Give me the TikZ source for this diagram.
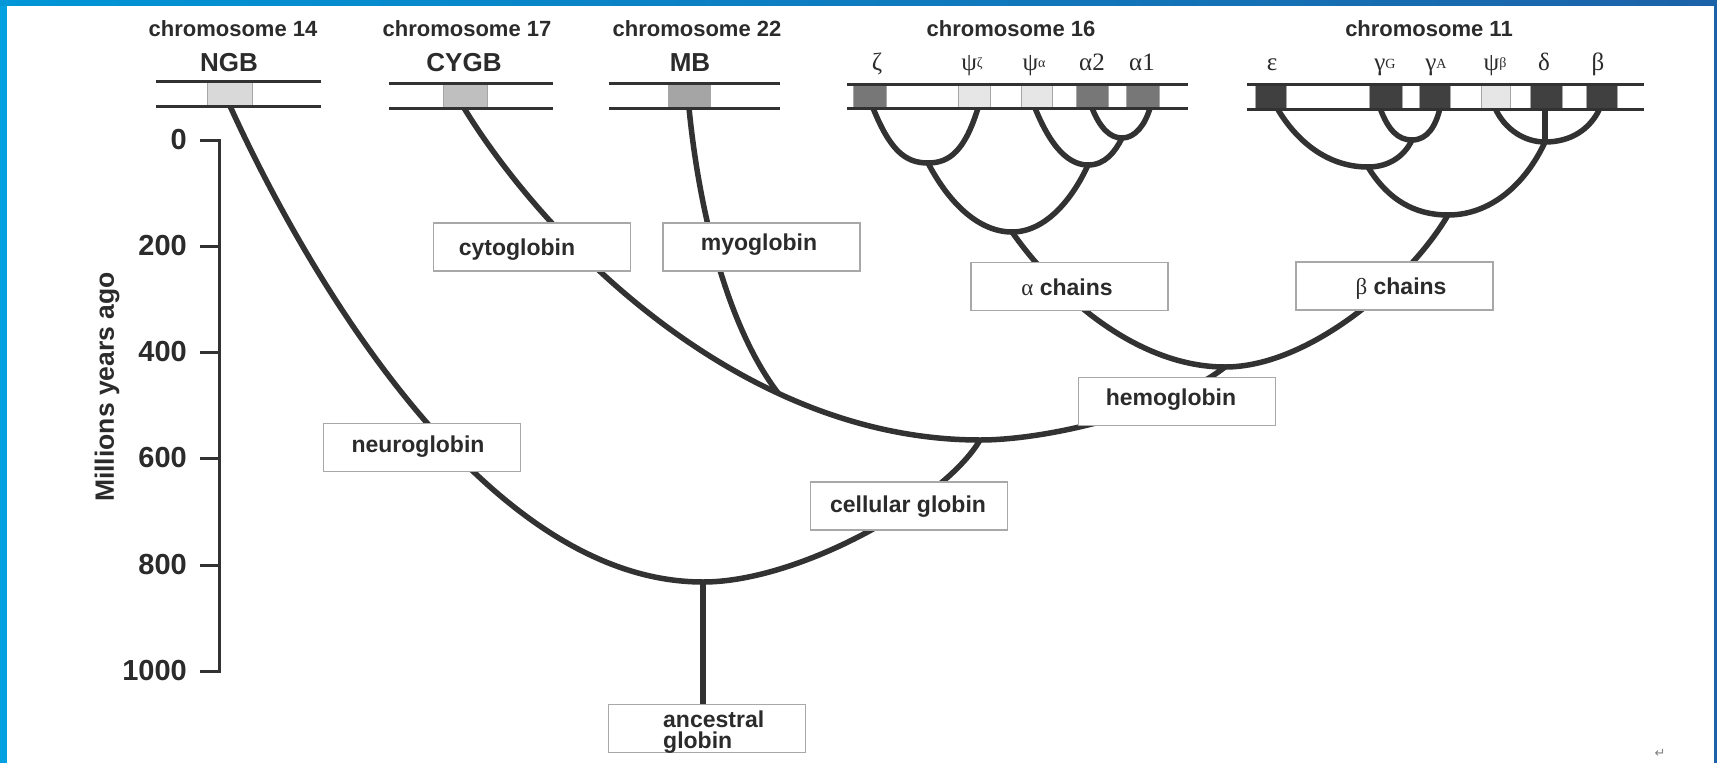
\documentclass[tikz,border=0pt]{standalone}
\usepackage{fontspec}
\setmainfont{Liberation Sans}
\newfontfamily\grk{Liberation Serif}
\newfontfamily\djv{DejaVu Sans}
\definecolor{ink}{HTML}{323232}
\definecolor{txt}{HTML}{2B2B2B}
\definecolor{boxline}{HTML}{A8A8A8}
\definecolor{leftblue}{RGB}{0,160,225}
\definecolor{topblueL}{RGB}{0,150,215}
\definecolor{topblueR}{RGB}{28,98,168}
\definecolor{gA}{HTML}{D9D9D9}
\definecolor{gB}{HTML}{BFBFBF}
\definecolor{gC}{HTML}{A5A5A5}
\definecolor{gM}{HTML}{777777}
\definecolor{gL}{HTML}{E6E6E6}
\definecolor{gD}{HTML}{404040}
\newcommand\fsz[1]{\fontsize{#1}{#1}\selectfont}
\begin{document}
\begin{tikzpicture}[x=1pt,y=-1pt,
  tree/.style={draw=ink,line width=5.5pt,line join=round},
  chrline/.style={draw=ink,line width=3pt},
  axisline/.style={draw=ink,line width=3pt},
  genebox/.style={draw=gray!70,line width=0.8pt,inner sep=0pt,minimum height=24pt},
  lbox/.style={draw=boxline,line width=1.5pt,fill=white,inner sep=0pt,minimum width=197pt,minimum height=48pt},
  lbl/.style={font=\bfseries\fsz{23},text=txt,inner sep=0pt,anchor=base},
  chrlbl/.style={font=\bfseries\fsz{22},text=txt,inner sep=0pt,anchor=base},
  genelbl/.style={font=\bfseries\fsz{26},text=txt,inner sep=0pt,anchor=base},
  grklbl/.style={font=\grk\fsz{25},text=txt,inner sep=0pt,anchor=base},
  numlbl/.style={font=\bfseries\fsz{29},text=txt,inner sep=0pt,anchor=east}]
\useasboundingbox (0,0) rectangle (1717,763);
\fill[white] (0,0) rectangle (1717,763);
% frame
\fill[leftblue] (0,0) rectangle (7,763);
\shade[left color=topblueL,right color=topblueR] (0,0) rectangle (1717,5);
\fill[topblueR] (1714,0) rectangle (1717,763);

% axis
\draw[axisline] (200,140) -- (219,140) -- (219,671) -- (200,671);
\foreach \yy in {246,352,458,565} \draw[axisline] (200,\yy) -- (219,\yy);
\node[numlbl] (t0) at (187,140) {0};
\node[numlbl] (t200) at (187,246) {200};
\node[numlbl] (t400) at (187,352) {400};
\node[numlbl] (t600) at (187,458) {600};
\node[numlbl] (t800) at (187,565) {800};
\node[numlbl] (t1000) at (187,671) {1000};
\node[font=\bfseries\fsz{26.5},text=txt,rotate=90,inner sep=0pt] (yl) at (107,387) {Millions years ago};

% coordinates
\coordinate (gng) at (230,106);
\coordinate (gcy) at (464,108);
\coordinate (gmb) at (689,108);
\coordinate (gz) at (873,108);
\coordinate (gpz) at (978,108);
\coordinate (gpa) at (1035,108);
\coordinate (ga2) at (1092,108);
\coordinate (ga1) at (1150,108);
\coordinate (ge) at (1277,108);
\coordinate (ggG) at (1380,108);
\coordinate (ggA) at (1440,108);
\coordinate (gpb) at (1495,108);
\coordinate (gd) at (1545,108);
\coordinate (gb) at (1600,108);
\coordinate (J1) at (928,163);
\coordinate (J2) at (1088,165);
\coordinate (J2a) at (1122,138);
\coordinate (J3) at (1012,232);
\coordinate (K1) at (1368,167);
\coordinate (Ka) at (1412,140);
\coordinate (K2) at (1448,215);
\coordinate (Kb) at (1545,142);
\coordinate (Jhb) at (1225,367);
\coordinate (Jcg) at (980,440);
\coordinate (Jcm) at (778,393);
\coordinate (J0) at (703,582);

% trees: chromosome 16
\draw[tree] (gz) .. controls +(17,42) and +(-23,0) .. (J1) .. controls +(22,0) and +(-13,42) .. (gpz);
\draw[tree] (J1) .. controls +(22,42) and +(-32,0) .. (J3) .. controls +(33,0) and +(-16,35) .. (J2);
\draw[tree] (gpa) .. controls +(13,32) and +(-23,0) .. (J2) .. controls +(17,0) and +(-7,14) .. (J2a);
\draw[tree] (ga2) .. controls +(8,20) and +(-12,0) .. (J2a) .. controls +(13,0) and +(-5,17) .. (ga1);
% chromosome 11
\draw[tree] (ge) .. controls +(20,34) and +(-40,0) .. (K1) .. controls +(22,0) and +(-7,15) .. (Ka);
\draw[tree] (ggG) .. controls +(8,22) and +(-14,0) .. (Ka) .. controls +(16,0) and +(-4,17) .. (ggA);
\draw[tree] (K1) .. controls +(20,33) and +(-33,0) .. (K2) .. controls +(42,0) and +(-20,43) .. (Kb);
\draw[tree] (gpb) .. controls +(10,22) and +(-20,0) .. (Kb) .. controls +(25,0) and +(-10,22) .. (gb);
\draw[tree] (gd) -- (Kb);
% hemoglobin
\draw[tree] (J3) .. controls +(48,68) and +(-85,0) .. (Jhb) .. controls +(85,0) and +(-38,65) .. (K2);
% cellular
\draw[tree] (gcy) .. controls +(81,132) and +(-240,0) .. (Jcg) .. controls +(70,0) and +(-55,43) .. (Jhb);
\draw[tree] (gmb) .. controls +(11,112) and +(-48,-63) .. (Jcm);
\draw[tree] (gng) .. controls +(70,154) and +(-223,0) .. (J0) .. controls +(97,0) and +(-35,60) .. (Jcg);

% label boxes
\node[lbox] (cytob) at (532,247) {};
\node[lbox] (myob) at (761.5,247) {};
\node[lbox] (alphab) at (1069.5,286.5) {};
\node[lbox] (betab) at (1394.5,286) {};
\node[lbox] (hbb) at (1177,401.5) {};
\node[lbox] (neurob) at (422,447.5) {};
\node[lbox] (cgb) at (909,506) {};
\node[lbox] (ancb) at (707,728.5) {};
\draw[tree] (J0) -- (J0 |- ancb.north);

\node[lbl] (cytot) at (517,255) {cytoglobin};
\node[lbl] (myot) at (759,250) {myoglobin};
\node[lbl] (alphat) at (1067,295) {{\grk\mdseries α} chains};
\node[lbl] (betat) at (1401,294) {{\grk\mdseries β} chains};
\node[lbl] (hbt) at (1171,405) {hemoglobin};
\node[lbl] (neurot) at (418,452) {neuroglobin};
\node[lbl] (cgt) at (908,512) {cellular globin};
\node[lbl,anchor=base west] (anct1) at (663,727) {ancestral};
\node[lbl,anchor=base west] (anct2) at (663,748) {globin};

% chromosomes
\node[genebox,fill=gA,minimum width=45pt] (ngbbox) at (229.5,93.5) {};
\node[genebox,fill=gB,minimum width=44pt] (cygbbox) at (465,95.5) {};
\node[genebox,fill=gC,minimum width=42pt] (mbbox) at (689,95.5) {};
\draw[chrline] (156,81) -- (321,81);
\draw[chrline] (156,106) -- (321,106);
\draw[chrline] (389,83) -- (553,83);
\draw[chrline] (389,108) -- (553,108);
\draw[chrline] (609,83) -- (780,83);
\draw[chrline] (609,108) -- (780,108);

\node[genebox,fill=gM,minimum width=33pt] (zbox) at (869.5,96) {};
\node[genebox,fill=gL,minimum width=32pt] (pzbox) at (974,96) {};
\node[genebox,fill=gL,minimum width=31pt] (pabox) at (1036.5,96) {};
\node[genebox,fill=gM,minimum width=32pt] (a2box) at (1092,96) {};
\node[genebox,fill=gM,minimum width=33pt] (a1box) at (1142.5,96) {};
\draw[chrline] (847,84) -- (1188,84);
\draw[chrline] (847,108) -- (1188,108);

\node[genebox,fill=gD,minimum width=31pt] (ebox) at (1270.5,96.5) {};
\node[genebox,fill=gD,minimum width=33pt] (gGbox) at (1385.5,96.5) {};
\node[genebox,fill=gD,minimum width=31pt] (gAbox) at (1434.5,96.5) {};
\node[genebox,fill=gL,minimum width=29pt] (pbbox) at (1495.5,96.5) {};
\node[genebox,fill=gD,minimum width=32pt] (dbox) at (1546,96.5) {};
\node[genebox,fill=gD,minimum width=31pt] (bbox) at (1601.5,96.5) {};
\draw[chrline] (1247,84) -- (1644,84);
\draw[chrline] (1247,109) -- (1644,109);

% chromosome labels
\node[chrlbl] (c14) at (233,36) {chromosome 14};
\node[chrlbl] (c17) at (467,36) {chromosome 17};
\node[chrlbl] (c22) at (697,36) {chromosome 22};
\node[chrlbl] (c16) at (1011,36) {chromosome 16};
\node[chrlbl] (c11) at (1429,36) {chromosome 11};
\node[genelbl] (ngbt) at (229,71) {NGB};
\node[genelbl] (cygbt) at (464,71) {CYGB};
\node[genelbl] (mbt) at (690,71) {MB};

% greek gene labels
\node[grklbl] (lz) at (877,70) {ζ};
\node[grklbl] (lpz) at (972,70) {ψ\raisebox{3pt}{\fsz{14}ζ}};
\node[grklbl] (lpa) at (1034,70) {ψ\raisebox{3pt}{\fsz{14}α}};
\node[grklbl] (la2) at (1092,70) {α2};
\node[grklbl] (la1) at (1142,70) {α1};
\node[grklbl] (le) at (1272,70) {ε};
\node[grklbl] (lgG) at (1385,70) {γ\raisebox{2pt}{\fsz{14}G}};
\node[grklbl] (lgA) at (1436,70) {γ\raisebox{2pt}{\fsz{14}A}};
\node[grklbl] (lpb) at (1495,70) {ψ\raisebox{3pt}{\fsz{14}β}};
\node[grklbl] (ld) at (1544,70) {δ};
\node[grklbl] (lb) at (1598,70) {β};

\node[font=\djv\fsz{13},text=gray,inner sep=0pt] (ret) at (1660,753) {↵};
\end{tikzpicture}
\end{document}
